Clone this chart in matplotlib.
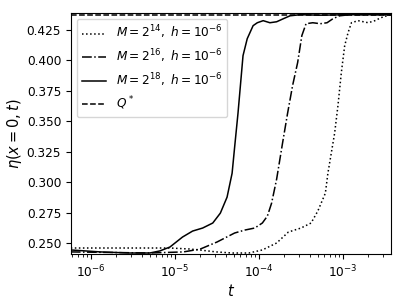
import numpy as np
import matplotlib
matplotlib.use("Agg")
import matplotlib.pyplot as plt

# log10(t) and eta values
lt_14 = [-6.24, -5.30, -5.06, -4.83, -4.71, -4.51, -4.32, -4.12, -3.96, -3.79,
         -3.65, -3.50, -3.38, -3.30, -3.21, -3.18, -3.14, -3.10, -3.06, -3.02,
         -2.98, -2.94, -2.90, -2.82, -2.70, -2.62, -2.55, -2.43]
eta_14 = [0.2459, 0.2459, 0.2459, 0.2451, 0.2443, 0.2427, 0.2418, 0.2418, 0.2443,
          0.2500, 0.2590, 0.2623, 0.2664, 0.2762, 0.2909, 0.3072, 0.3236, 0.3400,
          0.3629, 0.3898, 0.4119, 0.4225, 0.4307, 0.4324, 0.4307, 0.4324, 0.4348,
          0.4375]

lt_16 = [-6.24, -5.30, -4.90, -4.70, -4.50, -4.29, -4.17, -4.05, -3.96, -3.90,
         -3.85, -3.79, -3.72, -3.66, -3.60, -3.54, -3.49, -3.44, -3.36, -3.27,
         -3.19, -3.12, -3.04, -2.92, -2.43]
eta_16 = [0.2427, 0.2418, 0.2427, 0.2450, 0.2508, 0.2582, 0.2606, 0.2623, 0.2664,
          0.2721, 0.2827, 0.3024, 0.3318, 0.3563, 0.3792, 0.3980, 0.4201, 0.4299,
          0.4307, 0.4299, 0.4307, 0.4340, 0.4364, 0.4373, 0.4373]

lt_18 = [-6.24, -5.89, -5.54, -5.30, -5.18, -5.06, -4.91, -4.79, -4.67, -4.55,
         -4.46, -4.38, -4.32, -4.29, -4.25, -4.19, -4.14, -4.07, -4.02, -3.95,
         -3.87, -3.79, -3.71, -3.63, -3.51, -3.27, -2.92, -2.43]
eta_18 = [0.2443, 0.2427, 0.2418, 0.2418, 0.2435, 0.2467, 0.2549, 0.2598, 0.2623,
          0.2664, 0.2745, 0.2876, 0.3072, 0.3285, 0.3563, 0.4037, 0.4176, 0.4283,
          0.4307, 0.4324, 0.4307, 0.4315, 0.4340, 0.4364, 0.4373, 0.4369, 0.4373,
          0.4373]

q_star = 0.437

labels = [r'$M=2^{14},\ h=10^{-6}$', r'$M=2^{16},\ h=10^{-6}$',
          r'$M=2^{18},\ h=10^{-6}$', r'$Q^*$']

plt.rcParams['font.size'] = 8.7
fig = plt.figure(figsize=(4.03, 3.02), dpi=100)
ax = fig.add_axes([0.176, 0.159, 0.794, 0.798])

ax.semilogx(10 ** np.array(lt_14), eta_14, ':', color='black', lw=1.1, label=labels[0])
ax.semilogx(10 ** np.array(lt_16), eta_16, '-.', color='black', lw=1.1, label=labels[1])
ax.semilogx(10 ** np.array(lt_18), eta_18, '-', color='black', lw=1.1, label=labels[2])
ax.axhline(q_star, ls='--', color='black', lw=1.1, label=labels[3])

ax.set_xlim(10 ** -6.238, 10 ** -2.43)
ax.set_ylim(0.2410, 0.4387)
ax.set_yticks([0.250, 0.275, 0.300, 0.325, 0.350, 0.375, 0.400, 0.425])
ax.set_xlabel(r'$t$', fontsize=10.5, labelpad=2)
ax.set_ylabel(r'$\eta(x=0,t)$', fontsize=10.5, labelpad=2)
ax.legend(loc='upper left', fontsize=8.7)

fig.savefig('out.png', dpi=100)
